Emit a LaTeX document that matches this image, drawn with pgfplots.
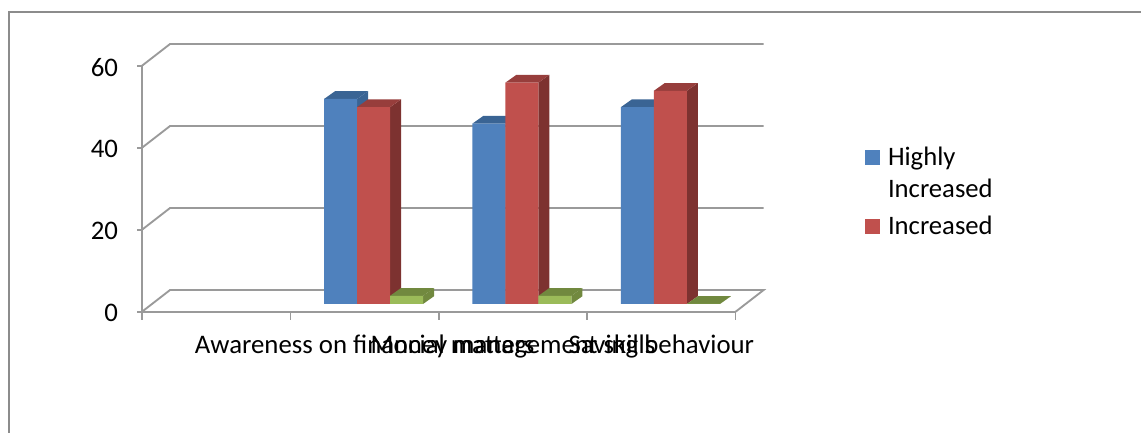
\documentclass[border=0pt]{standalone}
\usepackage{fontspec}
\setmainfont{Carlito}
\usepackage{pgfplots}
\usepackage{pgfplotstable}
\pgfplotsset{compat=1.18}

\definecolor{framegrey}{HTML}{8C8C8C}
\definecolor{wallgrey}{HTML}{9A9A9A}
\definecolor{blueF}{HTML}{4F81BD}
\definecolor{blueT}{HTML}{3A6494}
\definecolor{blueS}{HTML}{3A6494}
\definecolor{redF}{HTML}{C0504D}
\definecolor{redT}{HTML}{973E3C}
\definecolor{redS}{HTML}{7D3230}
\definecolor{greenF}{HTML}{9BBB59}
\definecolor{greenT}{HTML}{71893F}
\definecolor{greenS}{HTML}{71893F}

% category position, then the share of respondents per answer
\pgfplotstableread{
x    high  incr  other
1.5  50    48    2
2.5  44    54    2
3.5  48    52    0
}\results

% depth of a bar, in axis units
\def\dx{0.074}
\def\dy{1.9}
\def\bw{0.2224}

% top and side faces of one series: {column}{bar shift}{top colour}{side colour}
\newcommand{\depthfaces}[4]{%
  \pgfplotsinvokeforeach{0,1,2}{%
    \pgfplotstablegetelem{##1}{x}\of\results\let\cx\pgfplotsretval
    \pgfplotstablegetelem{##1}{#1}\of\results\let\val\pgfplotsretval
    \pgfmathsetmacro\xl{\cx+#2-\bw/2}%
    \pgfmathsetmacro\xr{\cx+#2+\bw/2}%
    \pgfmathsetmacro\xlb{\xl+\dx}%
    \pgfmathsetmacro\xrb{\xr+\dx}%
    \pgfmathsetmacro\vb{\val+\dy}%
    \edef\faces{%
      \noexpand\addplot[fill=#4,draw=none,forget plot] coordinates
        {(\xr,0) (\xrb,\dy) (\xrb,\vb) (\xr,\val)} -- cycle;
      \noexpand\addplot[fill=#3,draw=none,forget plot] coordinates
        {(\xl,\val) (\xlb,\vb) (\xrb,\vb) (\xr,\val)} -- cycle;
    }\faces
  }%
}

\pgfplotsset{
  chartbase/.style={
    scale only axis, width=445.2pt, height=184.5pt,
    xmin=0, xmax=4, ymin=0, ymax=60, clip=false,
    anchor=south west,
  },
}

\begin{document}
\begin{tikzpicture}
\useasboundingbox (0,0) rectangle (855.75pt,324pt);
\draw[framegrey,line width=1.5pt] (6.9pt,-2pt) -- (6.9pt,315pt) -- (858pt,315pt);

% walls and floor
\begin{axis}[chartbase, at={(106.5pt,90.2pt)},
  axis x line*=bottom, axis y line*=left,
  axis line style={wallgrey,line width=1.4pt},
  tick align=outside, tick style={wallgrey,line width=1.2pt},
  y tick label style={font=\fontsize{20.1}{20}\selectfont,xshift=-11pt,yshift=-1.2pt},
  x tick label style={font=\fontsize{20.1}{20}\selectfont,yshift=-10.5pt,text=black},
  major tick length=3.5pt,
  ytick={0,20,40,60},
  xtick={0.5,1.5,2.5,3.5},
  xticklabels={,Awareness on financial matters,Money management skills,Saving behaviour},
  major x tick style={draw=none},
  minor xtick={0,1,2,3,4},
  minor tick length=6pt,
  minor x tick style={wallgrey,line width=1.2pt},
  /pgf/number format/assume math mode=true,
]
\pgfplotsinvokeforeach{20,40,60}{
  \pgfmathsetmacro\gy{#1+5.3}
  \edef\gridline{\noexpand\addplot[wallgrey,line width=1.4pt,forget plot] coordinates {(0,#1) (0.189,\gy) (4.189,\gy)};}
  \gridline
}
\addplot[wallgrey,line width=1.4pt,forget plot] coordinates {(0,0) (0.189,5.3) (4.189,5.3) (4,0)};
\end{axis}

% bars stand part way back on the floor
\begin{axis}[chartbase, at={(113.2pt,96pt)}, hide axis,
  legend style={at={(1.1963,0.661)},anchor=north west,draw=none,fill=none,
    font=\fontsize{20}{24}\selectfont,cells={align=left},
    row sep=8.5pt,/tikz/column 1/.style={column sep=3.75pt}},
  legend cell align=left,
]
\depthfaces{high}{-\bw}{blueT}{blueS}
\addplot[ybar,bar width=\bw,bar shift=-\bw,fill=blueF,draw=none,
  legend image code/.code={\fill[blueF] (0pt,6.4pt) rectangle (11.25pt,17.65pt);}]
  table[x=x,y=high]{\results};
\addlegendentry{Highly\\Increased}
\depthfaces{incr}{0}{redT}{redS}
\addplot[ybar,bar width=\bw,bar shift=0,fill=redF,draw=none,
  legend image code/.code={\fill[redF] (0pt,-5.6pt) rectangle (11.25pt,5.6pt);}]
  table[x=x,y=incr]{\results};
\addlegendentry{Increased}
\depthfaces{other}{\bw}{greenT}{greenS}
\addplot[ybar,bar width=\bw,bar shift=\bw,fill=greenF,draw=none,forget plot]
  table[x=x,y=other]{\results};
\end{axis}
\end{tikzpicture}
\end{document}
